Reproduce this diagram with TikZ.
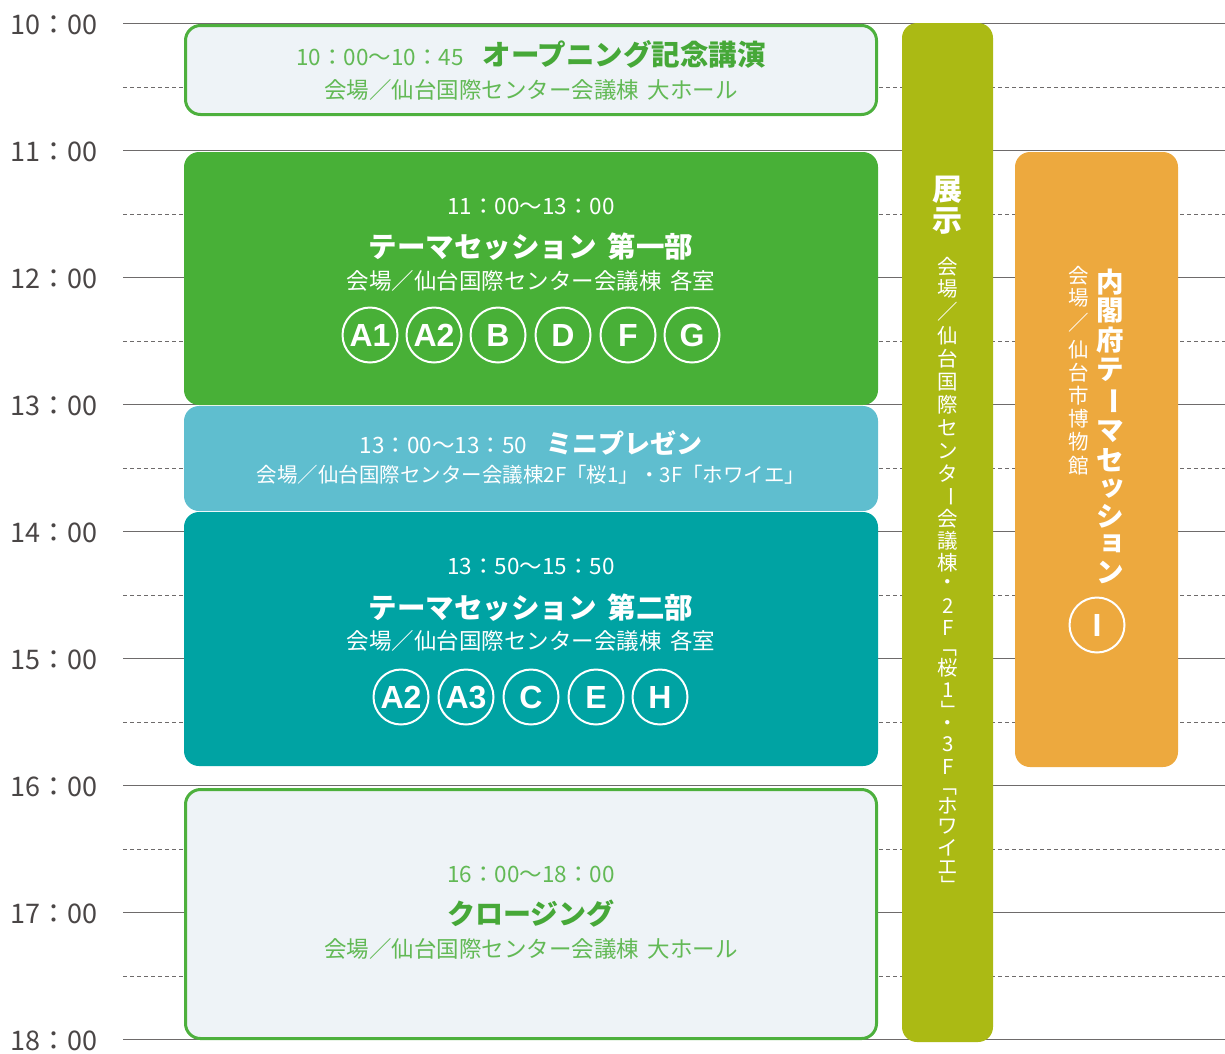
\documentclass[tikz,border=0pt]{standalone}
\usepackage{fontspec}
\setmainfont{Noto Sans CJK JP}
\newfontfamily\circfont{Liberation Sans}
\newcommand\fs[1]{\fontsize{#1}{#1}\selectfont}
\definecolor{gridc}{HTML}{6E6B6B}
\definecolor{labelc}{HTML}{4A4646}
\definecolor{lightbg}{HTML}{EEF3F7}
\definecolor{greenline}{HTML}{4DB03D}
\definecolor{greenT}{HTML}{62B955}
\definecolor{greenB}{HTML}{46A838}
\definecolor{greenfill}{HTML}{48B037}
\definecolor{bluefill}{HTML}{5FBECF}
\definecolor{tealfill}{HTML}{00A3A3}
\definecolor{olivefill}{HTML}{ABBA14}
\definecolor{orangefill}{HTML}{EDA93E}
\begin{document}
\begin{tikzpicture}[x=1pt,y=-1pt,
  hour/.style={draw=gridc, line width=1.2pt},
  half/.style={draw=gridc, line width=1pt, dash pattern=on 4pt off 3pt},
  tlabel/.style={anchor=west, inner sep=0, text=labelc, font=\fs{27}},
  box/.style={rounded corners=15pt, inner sep=0, outer sep=0},
  circ/.style={circle, draw=white, line width=2pt, minimum size=55pt, inner sep=0, text=white, font=\circfont\bfseries\fs{32}},
  txt/.style={inner sep=0, align=center},
  vch/.style={inner sep=0, text=white},
]
\useasboundingbox (0,0) rectangle (1225,1053);
% grid
\foreach \h [count=\i from 0] in {10,...,18} {
  \coordinate (hl\h) at (123, 23.5+127*\i);
  \coordinate (hr\h) at (1225, 23.5+127*\i);
  \draw[hour] (hl\h) -- (hr\h);
  \node[tlabel] (lab\h) at (10, 25+127*\i) {\h：00};
}
\foreach \i in {0,...,7} {
  \coordinate (dl\i) at (123, 87+127*\i);
  \coordinate (dr\i) at (1225, 87+127*\i);
  \draw[half] (dl\i) -- (dr\i);
}
% opening
\node[box, fill=lightbg, draw=greenline, line width=3pt, minimum width=691pt, minimum height=89pt] (open) at (531,70) {};
\node[txt] (openT) at (531,54.5) {{\color{greenT}\fs{22.5}10：00〜10：45}\hspace{19pt}{\color{greenB}\bfseries\fs{28.5}オープニング記念講演}};
\node[txt, text=greenT, font=\fs{22.5}] (openV) at (531,90) {会場／仙台国際センター会議棟\hspace{0.4em}大ホール};
% theme session 1
\node[box, fill=greenfill, minimum width=694pt, minimum height=253pt] (s1) at (531,278.5) {};
\node[txt, text=white, font=\fs{22.5}] (s1time) at (531,206) {11：00〜13：00};
\node[txt, text=white, font=\bfseries\fs{28.5}] (s1title) at (531,247) {テーマセッション\hspace{0.4em}第一部};
\node[txt, text=white, font=\fs{22.5}] (s1v) at (531,281) {会場／仙台国際センター会議棟\hspace{0.4em}各室};
\foreach \t/\x in {A1/370, A2/434, B/498, D/563, F/628, G/692} {
  \node[circ] (r1\t) at (\x,335) {\t};
}
% mini presentation
\node[box, fill=bluefill, minimum width=694pt, minimum height=105pt] (mini) at (531,458.5) {};
\node[txt, text=white] (miniT) at (531,443) {{\fs{22.5}13：00〜13：50}\hspace{19pt}{\bfseries\fs{26}ミニプレゼン}};
\node[txt, text=white, font=\fs{20.5}] (miniV) at (531,475) {会場／仙台国際センター会議棟2F「桜1」・3F「ホワイエ」};
% theme session 2
\node[box, fill=tealfill, minimum width=694pt, minimum height=254pt] (s2) at (531,639) {};
\node[txt, text=white, font=\fs{22.5}] (s2time) at (531,566.5) {13：50〜15：50};
\node[txt, text=white, font=\bfseries\fs{28.5}] (s2title) at (531,608) {テーマセッション\hspace{0.4em}第二部};
\node[txt, text=white, font=\fs{22.5}] (s2v) at (531,641) {会場／仙台国際センター会議棟\hspace{0.4em}各室};
\foreach \t/\x in {A2/401, A3/466, C/531, E/596, H/660} {
  \node[circ] (r2\t) at (\x,697) {\t};
}
% closing
\node[box, fill=lightbg, draw=greenline, line width=3pt, minimum width=691pt, minimum height=249pt] (close) at (531,914) {};
\node[txt, text=greenT, font=\fs{22.5}] (closeT) at (531,874) {16：00〜18：00};
\node[txt, text=greenB, font=\bfseries\fs{28}] (closeTitle) at (531,914) {クロージング};
\node[txt, text=greenT, font=\fs{22.5}] (closeV) at (531,949) {会場／仙台国際センター会議棟\hspace{0.4em}大ホール};
% exhibition column
\node[box, fill=olivefill, minimum width=91pt, minimum height=1019pt] (exh) at (947.5,532.5) {};
\node[vch, font=\bfseries\fs{30}] (exh1) at (947,190) {展};
\node[vch, font=\bfseries\fs{30}] (exh2) at (947,221) {示};
\foreach \ch/\yy/\r [count=\i] in {会/267/0, 場/289/0, ／/312/0, 仙/336/0, 台/359/0, 国/382/0, 際/405/0, セ/428/0, ン/451/0, タ/474/0, ー/497/-90, 会/519/0, 議/541/0, 棟/563/0, ・/585/0, 2/606/0, F/628/0, 「/647/-90, 桜/668/0, 1/690/0, 」/711/-90, ・/726/0, 3/744/0, F/767/0, 「/786/-90, ホ/806/0, ワ/827/0, イ/848/0, エ/868/0, 」/886/-90} {
  \node[vch, font=\fs{20.5}, rotate=\r] (exv\i) at (948,\yy) {\ch};
}
% cabinet office column
\node[box, fill=orangefill, minimum width=163pt, minimum height=615pt] (cab) at (1096.5,459.5) {};
\foreach \ch/\yy/\r/\dx [count=\i] in {内/282/0/0, 閣/311/0/0, 府/340/0/0, テ/370/0/0, ー/401/-90/0, マ/432/0/0, セ/460/0/0, ッ/489/0/2, シ/516/0/0, ョ/544/0/2, ン/572/0/0} {
  \node[vch, font=\bfseries\fs{27.5}, rotate=\r] (cabb\i) at (1110+\dx,\yy) {\ch};
}
\foreach \ch/\yy [count=\i] in {会/276, 場/298, ／/323, 仙/350, 台/373, 市/396, 博/419, 物/442, 館/466} {
  \node[vch, font=\fs{20.5}] (cabv\i) at (1079,\yy) {\ch};
}
\node[circ] (r3I) at (1097,625) {I};
\end{tikzpicture}
\end{document}
